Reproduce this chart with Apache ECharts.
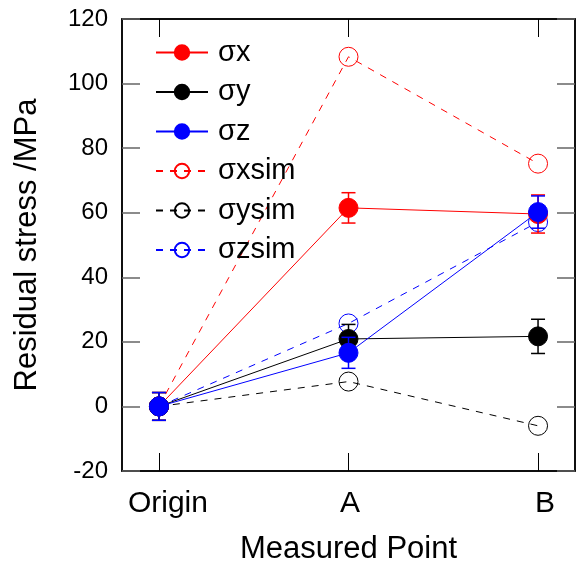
<!DOCTYPE html>
<html>
<head>
<meta charset="utf-8">
<script src="https://cdn.jsdelivr.net/npm/echarts@6/dist/echarts.min.js"></script>
<style>
  html, body { margin: 0; padding: 0; background: #fff; }
  #chart { width: 578px; height: 567px; }
</style>
</head>
<body>
<div id="chart"></div>
<script>
// measured points
const pointLabels = ['Origin', 'A', 'B']

// measured stresses (MPa) and their error half-widths
const sigmaX = [0, 61.5, 59.6]
const sigmaXErr = [4.3, 4.7, 5.9]
const sigmaY = [0, 20.9, 21.7]
const sigmaYErr = [4.3, 4.5, 5.3]
const sigmaZ = [0, 16.6, 60.2]
const sigmaZErr = [4.3, 4.8, 5.0]

// simulated stresses (MPa)
const sigmaXsim = [0, 108.3, 75.2]
const sigmaYsim = [0, 7.7, -6.0]
const sigmaZsim = [0, 25.7, 57.1]

const yTicks = [-20, 0, 20, 40, 60, 80, 100, 120]

const chart = echarts.init(document.getElementById('chart'))

const toPairs = arr => arr.map((v, i) => [i, v])
const toErr = (vals, errs) => vals.map((v, i) => [i, v - errs[i], v + errs[i]])

const measured = (name, vals, color, z) => ({
  name,
  type: 'line',
  data: toPairs(vals),
  symbol: 'circle',
  symbolSize: 19,
  z,
  lineStyle: { color, width: 1, type: 'solid' },
  itemStyle: { color, borderColor: color, borderWidth: 1 }
})

const simulated = (name, vals, color, z) => ({
  name,
  type: 'line',
  data: toPairs(vals),
  symbol: 'circle',
  symbolSize: 19,
  z,
  lineStyle: { color, width: 1, type: [7, 7] },
  itemStyle: { color: 'rgba(255,255,255,0)', borderColor: color, borderWidth: 1 }
})

const errorBars = (vals, errs, color, z) => ({
  type: 'custom',
  data: toErr(vals, errs),
  z,
  silent: true,
  renderItem: (params, api) => {
    const lo = api.coord([api.value(0), api.value(1)])
    const hi = api.coord([api.value(0), api.value(2)])
    const w = 7
    const style = { stroke: color, lineWidth: 1.5 }
    return {
      type: 'group',
      children: [
        { type: 'line', shape: { x1: lo[0], y1: lo[1], x2: hi[0], y2: hi[1] }, style },
        { type: 'line', shape: { x1: lo[0] - w, y1: lo[1], x2: lo[0] + w, y2: lo[1] }, style },
        { type: 'line', shape: { x1: hi[0] - w, y1: hi[1], x2: hi[0] + w, y2: hi[1] }, style }
      ]
    }
  }
})

const font = 'Liberation Sans, Arial, sans-serif'

const frameAxis = { show: true, onZero: false, lineStyle: { color: '#000', width: 1.5 } }

// small per-label nudges so the tick texts sit like in the original
const labelStyle = pad => ({ fontSize: 30, color: '#000', fontFamily: font, padding: [0, 0, 0, pad] })

const option = {
  animation: false,
  textStyle: { fontFamily: font },
  grid: {
    left: 122, right: 3, top: 19, bottom: 96,
    containLabel: false,
    outerBoundsMode: 'none',
    show: true, borderColor: '#000', borderWidth: 1.5
  },
  legend: {
    data: ['σx', 'σy', 'σz', 'σxsim', 'σysim', 'σzsim'],
    orient: 'vertical',
    left: 150,
    top: 33,
    itemWidth: 52,
    itemHeight: 18,
    itemGap: 10.5,
    textStyle: { fontSize: 29, color: '#000', fontFamily: font, padding: [0, 0, 0, 5] }
  },
  xAxis: [
    {
      type: 'value',
      min: -0.195,
      max: 2.195,
      name: 'Measured Point',
      nameLocation: 'middle',
      nameGap: 63,
      nameTextStyle: { fontSize: 31, color: '#000' },
      axisLine: frameAxis,
      splitLine: { show: false },
      axisTick: { inside: true, length: 18, customValues: [0, 1, 2], lineStyle: { color: '#000' } },
      axisLabel: {
        customValues: [0, 1, 2],
        formatter: v => ['{o|', '{a|', '{b|'][Math.round(v)] + pointLabels[Math.round(v)] + '}',
        fontSize: 30, color: '#000', margin: 18,
        rich: { o: labelStyle(18), a: labelStyle(3), b: labelStyle(14) }
      }
    },
    {
      type: 'value',
      position: 'top',
      min: -0.195,
      max: 2.195,
      axisLine: frameAxis,
      splitLine: { show: false },
      axisTick: { inside: true, length: 18, customValues: [0, 1, 2], lineStyle: { color: '#000' } },
      axisLabel: { show: false }
    }
  ],
  yAxis: [
    {
      type: 'value',
      min: yTicks[0],
      max: yTicks[yTicks.length - 1],
      interval: 20,
      name: 'Residual stress /MPa',
      nameLocation: 'middle',
      nameGap: 79,
      nameTextStyle: { fontSize: 31, color: '#000' },
      axisLine: frameAxis,
      splitLine: { show: false },
      axisTick: { inside: true, length: 18, lineStyle: { color: '#666', width: 1.5 } },
      axisLabel: { fontSize: 24, color: '#000', margin: 14 }
    },
    {
      type: 'value',
      position: 'right',
      min: yTicks[0],
      max: yTicks[yTicks.length - 1],
      interval: 20,
      axisLine: frameAxis,
      splitLine: { show: false },
      axisTick: { inside: true, length: 18, lineStyle: { color: '#666', width: 1.5 } },
      axisLabel: { show: false }
    }
  ],
  series: [
    simulated('σxsim', sigmaXsim, '#ff0000', 2),
    simulated('σysim', sigmaYsim, '#000000', 2),
    simulated('σzsim', sigmaZsim, '#0000ff', 2),
    errorBars(sigmaX, sigmaXErr, '#ff0000', 3),
    measured('σx', sigmaX, '#ff0000', 3),
    errorBars(sigmaY, sigmaYErr, '#000000', 4),
    measured('σy', sigmaY, '#000000', 4),
    errorBars(sigmaZ, sigmaZErr, '#0000ff', 5),
    measured('σz', sigmaZ, '#0000ff', 5)
  ]
}

chart.setOption(option)
</script>
</body>
</html>
